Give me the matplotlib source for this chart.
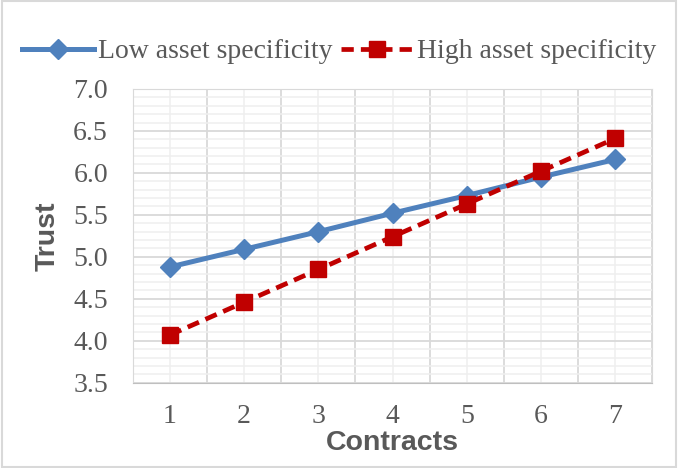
import numpy as np
import matplotlib.pyplot as plt
from matplotlib.ticker import MultipleLocator

contracts = [1, 2, 3, 4, 5, 6, 7]
low_asset = [4.88, 5.09, 5.30, 5.52, 5.73, 5.95, 6.16]
high_asset = [4.07, 4.46, 4.85, 5.24, 5.63, 6.02, 6.41]

grey = '#595959'

fig = plt.figure(figsize=(6.78, 4.68), dpi=100)
ax = fig.add_axes([0.196, 0.182, 0.766, 0.628])

x = np.arange(len(contracts))
ax.plot(x, low_asset, color='#4f81bd', linewidth=3.6, marker='D', markersize=10.5,
        label='Low asset specificity')
ax.plot(x, high_asset, color='#c00000', linewidth=3.4, linestyle=(0, (2.6, 1.5)),
        marker='s', markersize=11, label='High asset specificity')

# axes ranges, grid like excel
ax.set_xlim(-0.5, len(contracts) - 0.5)
ax.set_ylim(3.5, 7.0)
ax.yaxis.set_major_locator(MultipleLocator(0.5))
ax.yaxis.set_minor_locator(MultipleLocator(0.1))
ax.set_xticks(x)
ax.set_xticklabels([str(c) for c in contracts])
ax.set_xticks(np.arange(-0.5, len(contracts)), minor=True)
ax.grid(which='major', axis='y', color='#d9d9d9', linewidth=1.3)
ax.grid(which='minor', axis='y', color='#efefef', linewidth=1.1)
ax.grid(which='minor', axis='x', color='#d9d9d9', linewidth=1.3)
ax.grid(which='major', axis='x', color='#efefef', linewidth=1.1)
ax.set_axisbelow(True)
ax.yaxis.set_major_formatter(plt.FuncFormatter(lambda v, p: f'{v:.1f}'))

for s in ax.spines.values():
    s.set_color('#d9d9d9')
ax.spines['bottom'].set_color('#bfbfbf')
ax.tick_params(which='both', length=0)
ax.tick_params(axis='y', pad=18)
ax.tick_params(axis='x', pad=15)
for lab in ax.get_xticklabels() + ax.get_yticklabels():
    lab.set_fontfamily('Liberation Serif')
    lab.set_fontsize(20)
    lab.set_color(grey)

ax.set_xlabel('Contracts', fontfamily='Liberation Sans', fontweight='bold',
              fontsize=20.5, color=grey, labelpad=1)
ax.set_ylabel('Trust', fontfamily='Liberation Sans', fontweight='bold',
              fontsize=20.5, color=grey, labelpad=9)

fig.legend(loc='upper center', bbox_to_anchor=(0.5, 0.97), ncol=2, frameon=False,
           prop={'family': 'Liberation Serif', 'size': 20}, labelcolor=grey,
           handlelength=2.6, columnspacing=0.3, handletextpad=0.15)

# light border round the figure
fig.patches.append(plt.Rectangle((0.003, 0.003), 0.994, 0.994, transform=fig.transFigure,
                                 fill=False, edgecolor='#d9d9d9', linewidth=1.5))

fig.savefig('out.png', dpi=100)
